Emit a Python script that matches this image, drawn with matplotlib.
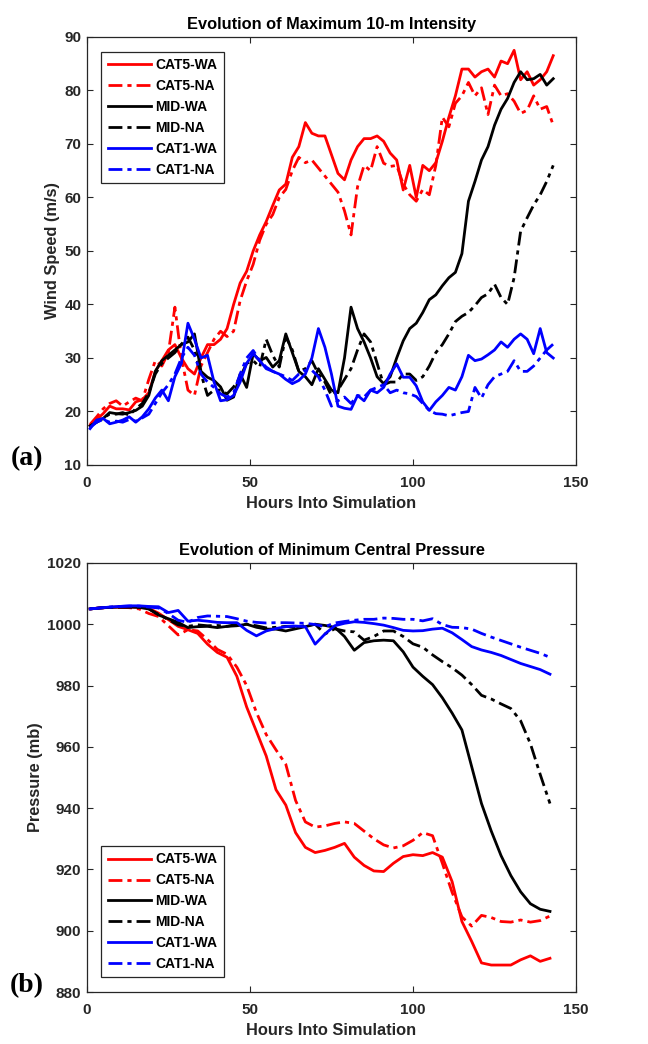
import numpy as np
import matplotlib
matplotlib.use("Agg")
import matplotlib.pyplot as plt

# Hours at which each series is sampled
hours_wind = np.arange(1, 144, 2)
hours_pres = np.arange(1, 143, 3)

series_names = ["CAT5-WA", "CAT5-NA", "MID-WA", "MID-NA", "CAT1-WA", "CAT1-NA"]
series_colors = ["#ff0000", "#ff0000", "#000000", "#000000", "#0000ff", "#0000ff"]
series_styles = ["-", "dashdot", "-", "dashdot", "-", "dashdot"]

# (a) Maximum 10-m wind speed (m/s)
wind_cat5_wa = [17.4, 18.5, 19.6, 21, 20.5, 20.5, 20.3, 21.8, 22.2, 23.5, 27.5, 29.5, 31.5, 32.5, 30, 28,
                27, 30, 32.5, 32.5, 33.5, 35.5, 40, 44, 46.2, 50, 53, 55.5, 58.5, 61.4, 62.5, 67.5,
                69.5, 74, 72, 71.5, 71.5, 68, 64.5, 63.3, 67, 69.5, 71, 71, 71.5, 70.5, 68.3, 67,
                61.4, 66, 60, 66, 65, 66.5, 70.5, 75, 79, 84, 84, 82.5, 83.5, 84, 82.5, 85.5,
                85, 87.5, 82, 83.5, 81, 82, 83.5, 86.5]
wind_cat5_na = [17.6, 19, 20.5, 21.5, 22, 21, 21.8, 22.5, 22, 26, 29.5, 28.5, 31, 39.5, 30, 24,
                23, 28.5, 31, 33.5, 35, 34, 35, 40.7, 44.4, 47.5, 52, 55, 56.8, 60, 61.5, 65,
                67.5, 66.5, 67, 65.5, 64, 62.5, 61, 57.5, 53, 62, 66, 65, 69.5, 66.4, 65.8, 66,
                62.5, 60.5, 59.3, 61.5, 60.5, 66, 75, 73.2, 77.6, 79, 81.5, 79, 80.5, 75.5, 81, 79,
                79.4, 78, 75.7, 76.3, 79, 76.5, 77, 73.5]
wind_mid_wa = [17.3, 18, 18.7, 19.8, 19.6, 19.5, 19.8, 20.2, 21, 23, 27.5, 29.5, 30.5, 31.5, 32.5, 33,
               34.5, 27.5, 26.4, 25.8, 24.6, 22.1, 22.7, 27, 24.5, 30.8, 29.5, 30.1, 28.3, 29.5, 34.5, 31,
               27.5, 26.5, 25, 28, 26, 24, 23.5, 30, 39.5, 35.5, 33, 30, 26.5, 25.2, 26.5, 30,
               33.2, 35.5, 36.5, 38.5, 40.9, 41.8, 43.5, 45, 46, 49.5, 59.3, 63, 67, 69.5, 73.5, 76.5,
               78.5, 81.5, 83.5, 82, 82.2, 83, 81, 82.2]
wind_mid_na = [17.3, 18, 18.8, 19.5, 19.5, 19.8, 19.3, 20.5, 21.5, 23.5, 27, 29, 30, 31, 32.6, 33.9,
               31.5, 27, 23, 24, 24, 23.3, 24.6, 26.4, 29, 29.5, 28.3, 33.5, 30.5, 28.3, 34, 31.5,
               27.5, 28, 29.5, 27, 25.5, 23, 24, 26, 28, 31.5, 34.5, 33, 29, 25, 25.5, 25.5,
               27, 27, 25.8, 26.5, 28.5, 31, 32.5, 34.5, 36.8, 37.8, 38.5, 39.8, 41.3, 42, 43.8, 41.3,
               40, 45, 53.7, 56.2, 58.6, 60.5, 63, 66]
wind_cat1_wa = [16.8, 18.4, 18.7, 17.7, 18, 18.4, 19, 18, 19, 20.5, 22.5, 24, 22, 26.5, 29, 36.5,
                33.5, 30, 30.5, 25.5, 22, 22.2, 23, 25.5, 29, 30.8, 29.5, 28, 27.5, 27, 26, 25.2,
                25.8, 27, 30, 35.5, 32, 27, 21, 20.6, 20.4, 23, 22, 24, 23.5, 24.5, 27, 28.9,
                26.4, 26.4, 24.8, 21.8, 20.2, 21.8, 23, 24.5, 24, 26.5, 30.5, 29.5, 29.8, 30.6, 31.5, 33,
                32, 33.5, 34.5, 33.5, 30.8, 35.5, 31, 30]
wind_cat1_na = [17, 18, 18.5, 18, 18.2, 18, 18.5, 18.2, 18.8, 19.5, 21.5, 23.5, 25, 27, 30, 32,
                30.5, 27, 25.5, 24.5, 23.3, 22.7, 23.5, 27, 30, 31.4, 29.5, 28.3, 27.5, 27, 26.5, 25.8,
                27, 27.7, 27.7, 26.5, 24, 21, 22, 22.7, 21.5, 23, 22.7, 24, 24.5, 25, 23.5, 24,
                23.5, 23.3, 22.8, 21.5, 20.2, 19.6, 19.5, 19.2, 19.5, 19.8, 20, 24.5, 22.5, 25, 26.5, 27,
                27.5, 29.5, 27.5, 27.5, 28.5, 30, 31.5, 32.6]

# (b) Minimum central pressure (mb)
pres_cat5_wa = [1005, 1005.3, 1005.5, 1005.6, 1005.6, 1005.5, 1005.2, 1003.6, 1001.5, 999.3, 998.2, 997,
                993.5, 990.8, 989.2, 983, 973, 965, 957, 946, 941, 932, 927.2, 925.5,
                926.2, 927.2, 928.5, 924, 921.3, 919.5, 919.3, 922, 924.2, 924.8, 924.5, 925.5,
                924, 916, 903, 896.5, 889.5, 888.8, 888.8, 888.8, 890.5, 891.8, 890, 891]
pres_cat5_na = [1005, 1005.3, 1005.5, 1005.5, 1005.4, 1005, 1003.5, 1002.5, 999.5, 996.5, 998.2, 997.8,
                995, 991.8, 990.2, 986, 980, 971.2, 964, 959, 954.3, 942.5, 935.5, 933.8,
                934.2, 935, 935.5, 935, 932.5, 930, 928, 927, 927.7, 929.5, 932, 931,
                922, 912.5, 904.5, 901.5, 905, 904.3, 903, 902.8, 903.5, 902.8, 903.3, 904.8]
pres_mid_wa = [1005, 1005.3, 1005.5, 1005.6, 1005.6, 1005.5, 1005, 1003, 1001.8, 1000.6, 998.9, 999.2,
               999.3, 998.9, 999.3, 999.5, 1000, 999, 998.4, 998.4, 997.8, 998.5, 999.2, 1000,
               999.6, 999, 996, 991.5, 994, 994.6, 994.8, 994.6, 991, 986, 983, 980.3,
               976, 971, 965.5, 953.5, 941.5, 932.5, 924.5, 918, 912.7, 908.8, 907, 906.3]
pres_mid_na = [1005, 1005.3, 1005.5, 1005.6, 1005.6, 1005.5, 1005, 1003.2, 1001.5, 999.8, 999.3, 999.8,
               999.5, 999.6, 999.3, 1000, 1000, 999.5, 998.8, 999, 999.3, 999, 999.5, 1000,
               996.8, 998.5, 997.8, 997.5, 994.8, 996, 997.8, 997.8, 996, 993.6, 992.5, 990,
               987.8, 985.8, 983.4, 980.3, 976.8, 975.6, 974, 972.5, 968.5, 961, 951, 941.5]
pres_cat1_wa = [1005, 1005.3, 1005.6, 1005.8, 1006, 1006, 1005.8, 1005.7, 1003.8, 1004.5, 1001, 1001.3,
                1001, 1000.6, 1000.5, 1000.5, 998, 996.2, 997.8, 998.6, 999.2, 999.4, 999.2, 993.5,
                996.8, 999.5, 1000.3, 1000.8, 1000.6, 1000.2, 999.7, 998.9, 998, 997.8, 997.9, 998.4,
                998.7, 997.2, 995, 992.7, 991.6, 990.8, 989.8, 988.5, 987.2, 986.2, 985.2, 983.7]
pres_cat1_na = [1005, 1005.3, 1005.6, 1005.8, 1005.9, 1005.9, 1005.6, 1005.3, 1003.5, 1001.3, 1000.6, 1002.2,
                1002.7, 1002.6, 1002.5, 1001.8, 1001, 1000.6, 1000.4, 1000.5, 1000.5, 1000.4, 1000.3, 999.9,
                999.2, 1000.4, 1000.9, 1001.3, 1001.6, 1001.6, 1002, 1001.9, 1001.6, 1001.6, 1001.1, 1001.8,
                999.9, 999, 998.9, 998.4, 997, 995.8, 994.7, 993.6, 992.5, 991.5, 990.5, 989.2]

wind_series = [wind_cat5_wa, wind_cat5_na, wind_mid_wa, wind_mid_na, wind_cat1_wa, wind_cat1_na]
pres_series = [pres_cat5_wa, pres_cat5_na, pres_mid_wa, pres_mid_na, pres_cat1_wa, pres_cat1_na]

plt.rcParams['font.family'] = ['Liberation Sans', 'DejaVu Sans']
TXT = '#262626'
DASHDOT = (0, (5, 1.8, 1.5, 1.8))

fig = plt.figure(figsize=(6.48, 10.44), dpi=100)
ax_a = fig.add_axes([0.134, 0.5546, 0.755, 0.41])
ax_b = fig.add_axes([0.134, 0.0498, 0.755, 0.411])


def style_axis(ax, title, ylabel, ylim, yticks):
    ax.set_xlim(0, 150)
    ax.set_xticks([0, 50, 100, 150])
    ax.set_ylim(*ylim)
    ax.set_yticks(yticks)
    ax.set_title(title, fontsize=11.8, fontweight='bold', color='black', pad=6)
    ax.set_xlabel('Hours Into Simulation', fontsize=11.8, fontweight='bold', color=TXT, labelpad=4)
    ax.set_ylabel(ylabel, fontsize=11.8, fontweight='bold', color=TXT, labelpad=3)
    ax.tick_params(direction='in', top=True, right=True, length=4, width=0.8,
                   labelsize=11, colors=TXT, pad=4)
    ax.tick_params(axis='x', pad=8)
    for lbl in ax.get_xticklabels() + ax.get_yticklabels():
        lbl.set_fontweight('bold')
    for sp in ax.spines.values():
        sp.set_color(TXT)
        sp.set_linewidth(0.9)


def draw_lines(ax, hours, data):
    for name, vals, col, ls in zip(series_names, data, series_colors, series_styles):
        style = DASHDOT if ls == 'dashdot' else ls
        ax.plot(hours, vals, color=col, linestyle=style, linewidth=2.0, label=name)


draw_lines(ax_a, hours_wind, wind_series)
style_axis(ax_a, 'Evolution of Maximum 10-m Intensity', 'Wind Speed (m/s)', (10, 90), range(10, 91, 10))

draw_lines(ax_b, hours_pres, pres_series)
style_axis(ax_b, 'Evolution of Minimum Central Pressure', 'Pressure (mb)', (880, 1020), range(880, 1021, 20))

for ax, loc in [(ax_a, 'upper left'), (ax_b, 'lower left')]:
    leg = ax.legend(loc=loc, prop={'weight': 'bold', 'size': 10}, handlelength=3.1,
                    handletextpad=0.35, labelspacing=0.5, borderpad=0.45,
                    borderaxespad=1.05, fancybox=False, framealpha=1,
                    edgecolor=TXT)
    leg.get_frame().set_linewidth(0.9)

fig.text(27 / 648, 1 - 459 / 1044, '(a)', family=['Liberation Serif', 'DejaVu Serif'],
         fontsize=20, fontweight='bold', ha='center', va='center')
fig.text(27 / 648, 1 - 986 / 1044, '(b)', family=['Liberation Serif', 'DejaVu Serif'],
         fontsize=20, fontweight='bold', ha='center', va='center')

fig.savefig('out.png', dpi=100, facecolor='white')
